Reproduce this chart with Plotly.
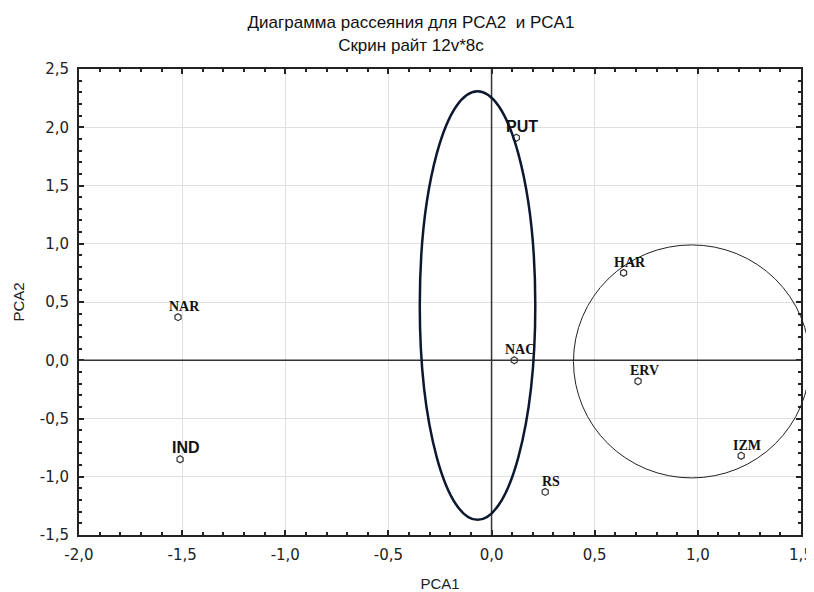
import plotly.graph_objects as go

# ---- data ----
labels = ["PUT", "HAR", "NAR", "NAC", "ERV", "IND", "IZM", "RS"]
pca1 = [0.12, 0.64, -1.52, 0.11, 0.71, -1.51, 1.21, 0.26]
pca2 = [1.91, 0.75, 0.37, 0.00, -0.18, -0.85, -0.82, -1.13]

x_ticks = [-2.0, -1.5, -1.0, -0.5, 0.0, 0.5, 1.0, 1.5]
x_ticktext = ["-2,0", "-1,5", "-1,0", "-0,5", "0,0", "0,5", "1,0", "1,5"]
y_ticks = [-1.5, -1.0, -0.5, 0.0, 0.5, 1.0, 1.5, 2.0, 2.5]
y_ticktext = ["-1,5", "-1,0", "-0,5", "0,0", "0,5", "1,0", "1,5", "2,0", "2,5"]

# enclosing shapes (centre x, centre y, radius x, radius y)
ellipse = [-0.068, 0.47, 0.28, 1.84]
circle = [0.97, -0.01, 0.573, 1.0]

x_range = [-2.0, 1.5]
y_range = [-1.5, 2.5]

title_lines = ["Диаграмма рассеяния для PCA2  и PCA1", "Скрин райт 12v*8c"]

# ---- figure ----
fig = go.Figure()
fig.add_trace(go.Scatter(
    x=pca1, y=pca2, mode="markers",
    marker=dict(symbol="hexagon-open", size=7, color="#333333", line=dict(width=1.2)),
    hoverinfo="skip", showlegend=False,
))

sans_labels = {"PUT", "IND"}
for lab, xv, yv in zip(labels, pca1, pca2):
    if lab in sans_labels:
        fnt = dict(family="Liberation Sans", size=16, color="#111111")
    else:
        fnt = dict(family="Liberation Serif", size=14, color="#111111")
    fig.add_annotation(
        x=xv, y=yv, text=f"<b>{lab}</b>",
        showarrow=False, xanchor="center", yanchor="bottom",
        xshift=6, yshift=1, font=fnt,
    )

def to_paper_x(v):
    return (v - x_range[0]) / (x_range[1] - x_range[0])

def to_paper_y(v):
    return (v - y_range[0]) / (y_range[1] - y_range[0])

# zero lines
fig.add_shape(type="line", xref="x", yref="y", x0=x_range[0], x1=x_range[1], y0=0, y1=0,
              line=dict(color="#333333", width=1.5))
fig.add_shape(type="line", xref="x", yref="y", x0=0, x1=0, y0=y_range[0], y1=y_range[1],
              line=dict(color="#333333", width=1.5))

# ellipse
cx, cy, rx, ry = ellipse
fig.add_shape(type="circle", xref="x", yref="y",
              x0=cx - rx, x1=cx + rx, y0=cy - ry, y1=cy + ry,
              line=dict(color="#0d1830", width=2.5))
# circle (extends past the right axis, so use paper coords)
cx, cy, rx, ry = circle
fig.add_shape(type="circle", xref="paper", yref="paper",
              x0=to_paper_x(cx - rx), x1=to_paper_x(cx + rx),
              y0=to_paper_y(cy - ry), y1=to_paper_y(cy + ry),
              line=dict(color="#222222", width=1))

axis_common = dict(
    automargin=False,
    showgrid=True, gridcolor="#e0e0e0", gridwidth=1,
    zeroline=False,
    showline=True, linecolor="#222222", linewidth=2, mirror="ticks",
    ticks="inside", ticklen=5, tickcolor="#222222", tickwidth=1.5,
    minor=dict(dtick=0.1, ticks="inside", ticklen=3, tickcolor="#222222", tickwidth=1.5, showgrid=False),
    tickfont=dict(family="DejaVu Sans", size=15, color="#222222"),
    title_font=dict(family="Liberation Sans", size=15, color="#222222"),
)

fig.update_xaxes(range=x_range, tickvals=x_ticks, ticktext=x_ticktext,
                 ticklabelstandoff=5,
                 title_text="PCA1", title_standoff=18, **axis_common)
fig.update_yaxes(range=y_range, tickvals=y_ticks, ticktext=y_ticktext,
                 ticklabelstandoff=5,
                 title_text="PCA2", title_standoff=11, **axis_common)

fig.update_layout(
    width=806, height=584,
    margin=dict(l=71, r=13, t=61, b=57),
    paper_bgcolor="white", plot_bgcolor="white",
    title=dict(text="<br>".join(title_lines), x=0.5, xanchor="center",
               y=0.965, yanchor="top",
               font=dict(family="Liberation Sans", size=17, color="#111111")),
)

fig.write_html("out.html")
